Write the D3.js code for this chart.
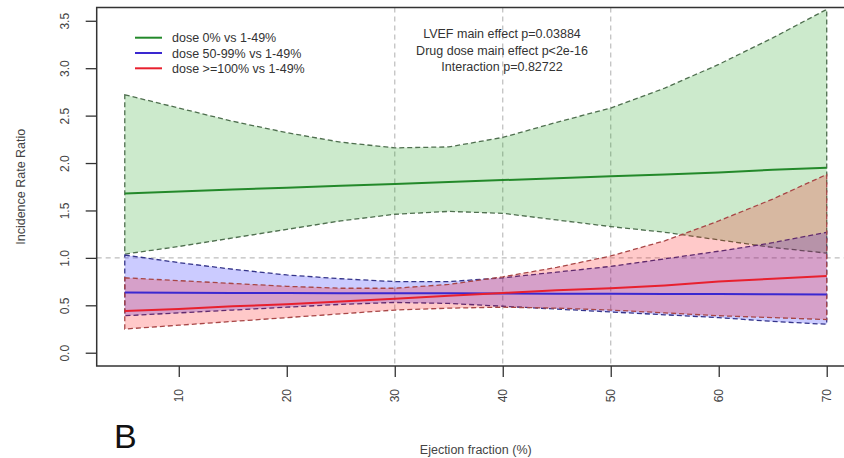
<!DOCTYPE html>
<html><head><meta charset="utf-8">
<script src="https://cdn.jsdelivr.net/npm/d3@7"></script>
<style>
body{margin:0;background:#fff;}
svg{display:block;font-family:"Liberation Sans",Arial,sans-serif;}
</style></head>
<body><svg id="chart" width="844" height="458"></svg>
<script>
// ---- data ----
const ef = [5,10,15,20,25,30,35,40,45,50,55,60,65,70];
const green    = [1.68,1.70,1.72,1.74,1.76,1.78,1.80,1.82,1.84,1.86,1.88,1.90,1.93,1.95];
const greenUp  = [2.72,2.58,2.44,2.32,2.22,2.16,2.17,2.27,2.43,2.58,2.79,3.04,3.32,3.62];
const greenLo  = [1.04,1.12,1.21,1.30,1.39,1.46,1.49,1.47,1.40,1.33,1.27,1.19,1.11,1.05];
const blue     = [0.635,0.633,0.631,0.629,0.628,0.627,0.626,0.625,0.623,0.622,0.620,0.618,0.616,0.615];
const blueUp   = [1.03,0.95,0.88,0.82,0.78,0.75,0.75,0.79,0.85,0.91,0.99,1.07,1.16,1.27];
const blueLo   = [0.39,0.42,0.45,0.48,0.51,0.53,0.52,0.49,0.46,0.43,0.40,0.37,0.33,0.30];
const red      = [0.44,0.46,0.49,0.51,0.54,0.57,0.60,0.63,0.66,0.68,0.71,0.75,0.78,0.81];
const redUp    = [0.79,0.76,0.73,0.70,0.68,0.68,0.72,0.80,0.90,1.02,1.18,1.39,1.62,1.88];
const redLo    = [0.25,0.29,0.33,0.37,0.41,0.45,0.47,0.48,0.47,0.45,0.42,0.39,0.37,0.35];
const yTicks = [0,0.5,1.0,1.5,2.0,2.5,3.0,3.5];
const xTicks = [10,20,30,40,50,60,70];
const gridX = [30,40,50];
const legendLabels = ["dose 0% vs 1-49%","dose 50-99% vs 1-49%","dose >=100% vs 1-49%"];
const notes = ["LVEF main effect p=0.03884","Drug dose main effect p<2e-16","Interaction p=0.82722"];

// ---- layout ----
const svg = d3.select("#chart");
const L=96.7, R=854.8, T=7.5, B=366;
const x = d3.scaleLinear().domain([2.4,72.6]).range([L,R]);
const y = d3.scaleLinear().domain([-0.14,3.64]).range([B,T]);

// grid
svg.append("g").selectAll("line").data(gridX).join("line")
  .attr("x1",d=>x(d)).attr("x2",d=>x(d)).attr("y1",T).attr("y2",B)
  .attr("stroke","#bdbdbd").attr("stroke-width",1.2).attr("stroke-dasharray","5,4");
svg.append("line").attr("x1",L).attr("x2",R).attr("y1",y(1)).attr("y2",y(1))
  .attr("stroke","#bdbdbd").attr("stroke-width",1.2).attr("stroke-dasharray","5,4");

const series = [
  {mid:green, up:greenUp, lo:greenLo, fill:"rgba(0,150,0,0.2)", edge:"#4f6f4f", line:"#23892a"},
  {mid:blue,  up:blueUp,  lo:blueLo,  fill:"rgba(20,20,255,0.22)", edge:"#34348a", line:"#3a28d0"},
  {mid:red,   up:redUp,   lo:redLo,   fill:"rgba(255,10,10,0.22)", edge:"#a84646", line:"#e8202e"}
];

const area = d3.area().x((d,i)=>x(ef[i])).y0(d=>y(d[0])).y1(d=>y(d[1]));
const line = d3.line().x((d,i)=>x(ef[i])).y(d=>y(d));

series.forEach(s=>{
  const pts = ef.map((e,i)=>[s.lo[i],s.up[i]]);
  svg.append("path").attr("d",area(pts)).attr("fill",s.fill).attr("stroke","none");
  // dashed polygon outline
  const poly = ef.map((e,i)=>[x(e),y(s.up[i])]).concat(ef.map((e,i)=>[x(e),y(s.lo[i])]).reverse());
  svg.append("path").attr("d","M"+poly.join("L")+"Z").attr("fill","none")
    .attr("stroke",s.edge).attr("stroke-width",1.3).attr("stroke-dasharray","5,3");
});
series.forEach(s=>{
  svg.append("path").attr("d",line(s.mid)).attr("fill","none").attr("stroke",s.line).attr("stroke-width",2);
});

// box
svg.append("rect").attr("x",L).attr("y",T).attr("width",R-L).attr("height",B-T)
  .attr("fill","none").attr("stroke","#333").attr("stroke-width",1.5);

// axes
const ya = svg.append("g").attr("transform",`translate(${L},0)`)
  .call(d3.axisLeft(y).tickValues(yTicks).tickSize(11).tickFormat(d3.format(".1f")));
ya.select(".domain").remove();
ya.selectAll("line").attr("stroke","#333").attr("stroke-width",1.3);
ya.selectAll("text")
  .attr("x",null).attr("dy","0.35em")
  .attr("transform","translate(-32,0) rotate(-90)")
  .attr("text-anchor","middle")
  .attr("font-size",12).attr("fill","#444").attr("font-family","Liberation Sans, Arial, sans-serif");

const xa = svg.append("g").attr("transform",`translate(0,${B})`)
  .call(d3.axisBottom(x).tickValues(xTicks).tickSize(11).tickFormat(d3.format("d")));
xa.select(".domain").remove();
xa.selectAll("line").attr("stroke","#333").attr("stroke-width",1.3);
xa.selectAll("text").attr("y",null).attr("dy","0.35em")
  .attr("transform","translate(0,23) rotate(-90)").attr("text-anchor","end")
  .attr("font-size",12).attr("fill","#444").attr("font-family","Liberation Sans, Arial, sans-serif");

// axis titles
svg.append("text").attr("transform",`translate(25,${(T+B)/2}) rotate(-90)`)
  .attr("text-anchor","middle").attr("font-size",12.5).attr("fill","#444").text("Incidence Rate Ratio");
svg.append("text").attr("x",(L+R)/2).attr("y",454)
  .attr("text-anchor","middle").attr("font-size",12.5).attr("fill","#444").text("Ejection fraction (%)");

// panel letter
svg.append("text").attr("x",114).attr("y",448).attr("font-size",34).attr("fill","#111").text("B");

// legend
const lg = svg.append("g");
legendLabels.forEach((t,i)=>{
  const yy = 37.7 + i*15.3;
  lg.append("line").attr("x1",135).attr("x2",162).attr("y1",yy).attr("y2",yy)
    .attr("stroke",series[i].line).attr("stroke-width",2);
  lg.append("text").attr("x",172).attr("y",yy+4.5).attr("font-size",12.5).attr("fill","#333").text(t);
});

// annotation
notes.forEach((t,i)=>{
  svg.append("text").attr("x",502).attr("y",38+i*16.5).attr("text-anchor","middle")
    .attr("font-size",12.5).attr("fill","#333").text(t);
});
</script>
</body></html>
